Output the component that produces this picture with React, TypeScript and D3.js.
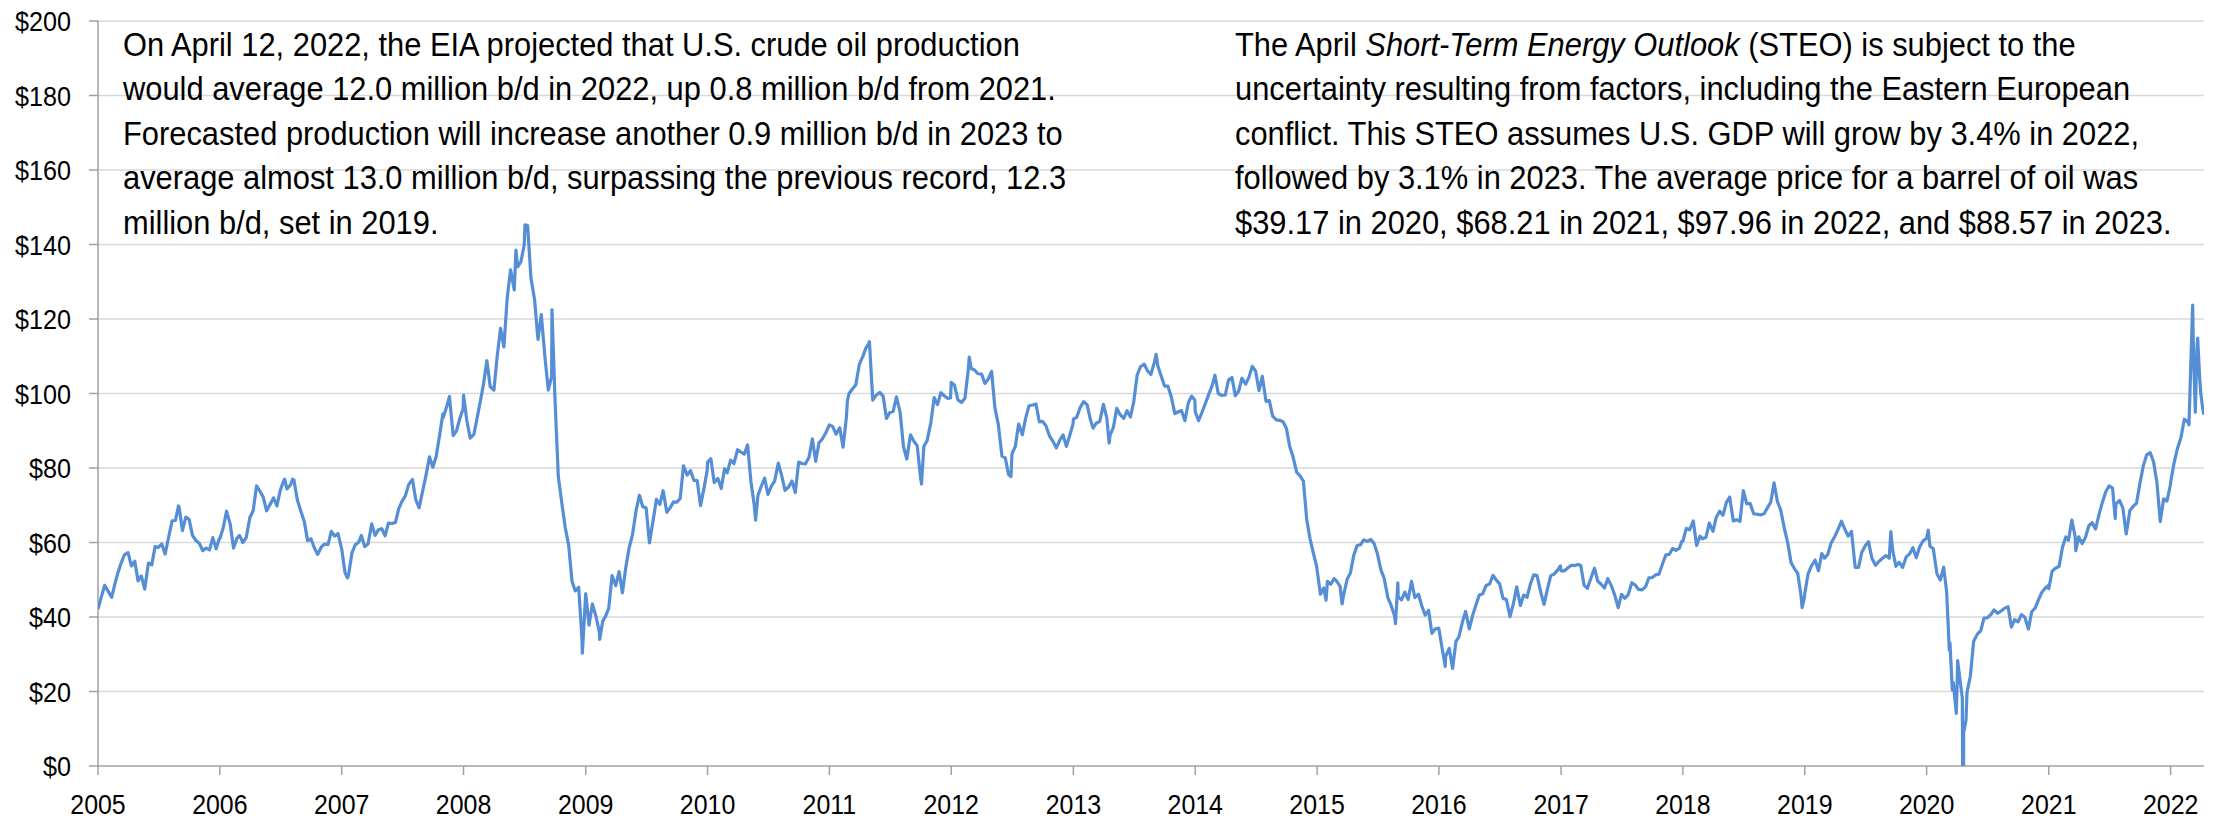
import React from 'react';
import * as d3 from 'd3';

// WTI spot price, $/barrel — sampled on the 1st, 11th and 21st of each month
const prices2005 = [42.1, 45.4, 48.5, 46.8, 45.3, 49.0, 51.7, 54.4, 56.7, 57.3, 53.7, 55.0, 49.7, 51.0, 47.5, 54.5, 54.0, 58.9, 58.7, 59.6, 56.9, 61.6, 65.8, 65.9, 69.5, 63.2, 66.8, 66.2, 61.9, 60.6, 59.7, 57.8, 58.5, 58.0, 61.3, 58.3];
const prices2006 = [61.0, 63.9, 68.4, 65.0, 58.5, 61.1, 61.9, 60.0, 61.3, 66.7, 68.6, 75.2, 73.8, 72.2, 68.5, 70.3, 72.0, 69.8, 74.0, 76.5, 74.4, 75.5, 76.8, 71.5, 68.3, 65.6, 60.5, 61.0, 58.6, 56.8, 58.8, 59.6, 59.4, 63.0, 61.7, 62.4];
const prices2007 = [58.3, 51.9, 51.0, 57.3, 59.4, 60.1, 61.9, 58.9, 59.6, 65.0, 61.9, 63.4, 63.7, 61.8, 65.2, 65.1, 65.4, 69.1, 71.1, 72.6, 75.6, 76.9, 71.5, 69.3, 74.0, 78.2, 83.0, 80.2, 83.1, 88.6, 93.5, 96.3, 98.0, 88.7, 90.0, 93.3];
const prices2008 = [99.6, 92.7, 88.0, 89.0, 93.6, 98.2, 102.6, 108.8, 101.8, 100.9, 110.1, 117.5, 112.5, 125.8, 133.2, 127.8, 134.0, 135.4, 140.0, 145.1, 131.0, 125.1, 114.5, 121.2, 109.7, 100.9, 104.6, 98.5, 77.7, 70.9, 63.9, 59.3, 49.6, 47.0, 48.0, 33.9];
const prices2009 = [46.3, 37.8, 43.5, 40.1, 35.9, 38.9, 40.1, 42.3, 51.1, 48.4, 52.2, 46.5, 53.2, 58.5, 62.0, 68.6, 72.7, 69.6, 69.3, 59.9, 65.4, 71.6, 70.2, 73.9, 68.1, 69.3, 70.9, 70.8, 71.8, 80.6, 78.1, 79.3, 76.7, 76.6, 69.9, 74.4];
const prices2010 = [81.5, 82.5, 76.1, 77.2, 74.5, 79.8, 78.7, 82.1, 81.2, 84.9, 84.3, 83.7, 86.2, 76.4, 70.0, 72.6, 75.1, 77.3, 72.9, 75.1, 76.5, 81.3, 78.0, 74.0, 74.9, 76.5, 73.4, 81.6, 81.2, 81.1, 82.9, 87.8, 81.8, 86.8, 87.8, 89.4];
const prices2011 = [91.6, 91.1, 89.1, 90.8, 85.6, 93.6, 100.0, 101.2, 102.3, 107.9, 109.9, 112.3, 113.9, 98.2, 99.5, 100.3, 99.3, 93.3, 94.9, 95.2, 99.1, 94.9, 85.7, 82.4, 88.9, 87.2, 86.0, 77.6, 85.8, 87.4, 92.2, 98.9, 97.0, 100.2, 99.4, 98.7];
const prices2012 = [103.0, 102.2, 98.3, 97.6, 98.7, 106.3, 106.7, 106.3, 105.3, 105.2, 102.7, 103.9, 105.9, 96.1, 91.7, 83.2, 82.7, 78.2, 83.8, 85.8, 91.8, 88.9, 93.4, 96.7, 96.9, 97.2, 92.4, 92.5, 91.3, 88.7, 87.1, 85.4, 87.4, 88.9, 85.8, 88.7];
const prices2013 = [93.1, 93.6, 96.2, 97.8, 97.0, 93.0, 90.7, 92.1, 92.5, 97.1, 93.5, 88.8, 91.0, 96.0, 94.3, 93.3, 95.4, 93.7, 97.9, 104.9, 107.2, 107.9, 106.1, 105.1, 108.5, 107.4, 104.7, 102.0, 102.0, 99.2, 94.6, 95.1, 95.4, 92.7, 97.4, 99.3];
const prices2014 = [95.1, 92.7, 94.9, 97.5, 99.9, 102.2, 104.9, 100.0, 99.5, 99.6, 103.7, 104.3, 99.4, 100.6, 104.1, 102.5, 104.4, 107.3, 106.0, 100.8, 104.6, 97.9, 98.1, 93.9, 92.9, 92.8, 92.4, 90.7, 85.8, 83.0, 78.8, 77.9, 76.5, 66.2, 61.0, 57.1];
const prices2015 = [52.7, 46.1, 47.8, 49.6, 48.8, 50.3, 49.6, 48.2, 45.7, 50.1, 51.9, 56.6, 59.2, 59.4, 60.7, 60.3, 60.8, 59.7, 56.9, 52.7, 50.4, 45.2, 43.1, 40.3, 45.4, 44.6, 46.7, 44.7, 49.6, 45.2, 46.1, 42.9, 40.5, 41.8, 35.6, 36.8];
const prices2016 = [36.8, 31.4, 29.4, 31.6, 26.2, 33.4, 34.7, 38.5, 41.5, 36.8, 40.4, 43.2, 45.9, 46.2, 48.4, 48.9, 51.2, 49.9, 48.9, 45.0, 44.7, 40.1, 43.5, 48.1, 43.1, 45.9, 45.3, 48.8, 51.3, 51.1, 46.7, 43.4, 47.5, 51.1, 51.5, 52.5];
const prices2017 = [52.4, 52.4, 53.2, 53.9, 53.8, 54.1, 53.8, 48.5, 47.7, 50.6, 53.1, 49.6, 48.8, 47.8, 50.3, 48.3, 45.8, 42.5, 46.1, 45.0, 46.0, 49.2, 48.6, 47.4, 47.3, 48.1, 50.5, 50.6, 51.3, 51.5, 54.3, 56.7, 56.8, 58.4, 57.9, 58.4];
const prices2018 = [60.4, 63.8, 63.4, 65.8, 59.2, 61.7, 61.0, 61.4, 65.2, 63.0, 66.8, 68.4, 67.3, 70.7, 72.2, 65.8, 66.1, 65.7, 73.9, 70.4, 70.5, 67.7, 67.6, 67.4, 67.7, 69.3, 70.8, 76.0, 71.0, 68.7, 63.7, 59.9, 54.6, 53.0, 51.7, 45.6];
const prices2019 = [46.3, 51.6, 53.7, 55.3, 52.4, 57.0, 55.8, 56.8, 59.9, 61.6, 63.6, 65.7, 63.6, 61.7, 63.0, 53.3, 53.3, 57.4, 59.1, 60.2, 55.8, 53.9, 54.9, 55.7, 56.5, 55.8, 58.1, 53.6, 54.7, 53.3, 56.2, 56.9, 58.6, 55.9, 58.8, 60.4];
const prices2020 = [61.2, 59.0, 58.3, 51.6, 49.9, 53.4, 46.8, 33.0, 22.4, 20.3, 22.4, 8.9, 19.8, 24.1, 33.5, 35.4, 36.3, 39.7, 39.8, 40.6, 41.9, 41.0, 41.6, 42.3, 42.8, 37.3, 39.3, 38.7, 40.6, 40.0, 36.8, 41.4, 42.4, 44.6, 46.6, 47.7];
const prices2021 = [47.6, 52.3, 53.1, 53.6, 58.7, 61.5, 60.6, 66.0, 61.6, 61.5, 59.7, 61.4, 64.5, 65.3, 63.6, 67.7, 70.9, 73.7, 75.2, 74.6, 70.3, 71.3, 69.2, 62.3, 68.6, 69.7, 70.6, 75.9, 80.5, 83.5, 84.1, 81.6, 76.1, 65.6, 71.7, 71.1];
const prices2022 = [76.1, 81.2, 85.1, 88.2, 93.1, 92.4, 103.4, 109.3, 112.1, 100.3, 94.3];

const yearly: [number, number[]][] = [
  [2005, prices2005], [2006, prices2006], [2007, prices2007], [2008, prices2008],
  [2009, prices2009], [2010, prices2010], [2011, prices2011], [2012, prices2012],
  [2013, prices2013], [2014, prices2014], [2015, prices2015], [2016, prices2016],
  [2017, prices2017], [2018, prices2018], [2019, prices2019], [2020, prices2020],
  [2021, prices2021], [2022, prices2022],
];
const sampleDays = [1, 11, 21];

// daily highs / lows that the 10-day sampling would miss
const spikes: [string, number][] = [
  ['2005-08-30', 69.8], ['2005-12-30', 61.0], ['2006-07-14', 77.0], ['2006-08-07', 77.0],
  ['2007-01-18', 50.5], ['2007-10-31', 94.5], ['2007-11-20', 99.2], ['2007-12-31', 96.0],
  ['2008-06-06', 138.5], ['2008-07-03', 145.3], ['2008-09-22', 122.5], ['2008-12-22', 30.3],
  ['2008-12-31', 44.6], ['2009-02-12', 34.0], ['2009-12-31', 79.4], ['2010-05-25', 66.0],
  ['2010-12-31', 91.4], ['2011-02-24', 98.1], ['2011-04-29', 113.4], ['2011-10-04', 75.7],
  ['2011-12-30', 98.8], ['2012-02-24', 109.8], ['2012-06-28', 77.7], ['2012-12-31', 91.8],
  ['2013-04-18', 86.7], ['2013-09-06', 110.5], ['2013-12-31', 98.2], ['2014-12-31', 53.5],
  ['2015-01-28', 44.5], ['2015-03-17', 43.5], ['2015-08-24', 38.2], ['2015-08-31', 49.2],
  ['2015-12-31', 37.0], ['2016-01-20', 26.7], ['2016-12-30', 53.7], ['2017-12-29', 60.4],
  ['2018-12-24', 42.5], ['2018-12-31', 45.2], ['2019-09-16', 62.9], ['2019-12-31', 61.1],
  ['2020-01-06', 63.3], ['2020-03-09', 31.1], ['2020-03-18', 20.4], ['2020-03-30', 14.1],
  ['2020-04-03', 28.3], ['2020-04-17', 18.3], ['2020-04-20', -37.0], ['2020-04-28', 12.3],
  ['2020-12-31', 48.5], ['2021-03-23', 57.8], ['2021-07-19', 66.4], ['2021-12-31', 75.3],
  ['2022-02-25', 91.6], ['2022-03-08', 123.7], ['2022-03-16', 95.0], ['2022-03-23', 114.9],
  ['2022-03-29', 104.2], ['2022-04-07', 96.0],
];

const yearTicks = [2005, 2006, 2007, 2008, 2009, 2010, 2011, 2012, 2013, 2014, 2015, 2016, 2017, 2018, 2019, 2020, 2021, 2022];
const priceTicks = [0, 20, 40, 60, 80, 100, 120, 140, 160, 180, 200];

const leftNote = [
  'On April 12, 2022, the EIA projected that U.S. crude oil production',
  'would average 12.0 million b/d in 2022, up 0.8 million b/d from 2021.',
  'Forecasted production will increase another 0.9 million b/d in 2023 to',
  'average almost 13.0 million b/d, surpassing the previous record, 12.3',
  'million b/d, set in 2019.',
];
// [text, italic]
const rightNote: [string, boolean][][] = [
  [['The April ', false], ['Short-Term Energy Outlook', true], [' (STEO) is subject to the', false]],
  [['uncertainty resulting from factors, including the Eastern European', false]],
  [['conflict. This STEO assumes U.S. GDP will grow by 3.4% in 2022,', false]],
  [['followed by 3.1% in 2023. The average price for a barrel of oil was', false]],
  [['$39.17 in 2020, $68.21 in 2021, $97.96 in 2022, and $88.57 in 2023.', false]],
];

const W = 2224;
const H = 820;
const left = 98;
const right = 2204;
const top = 21;
const bottom = 766;
const font = '"Liberation Sans", Arial, sans-serif';
const tickSx = 0.9; // source text is a bit narrower than Arial
const noteSx = 0.935;

const parse = d3.timeParse('%Y-%m-%d');

const points: { date: Date; value: number }[] = [];
yearly.forEach(([year, vals]) => {
  vals.forEach((v, i) => {
    const month = Math.floor(i / 3);
    points.push({ date: new Date(year, month, sampleDays[i % 3]), value: v });
  });
});
spikes.forEach(([d, v]) => points.push({ date: parse(d)!, value: v }));
points.sort((a, b) => +a.date - +b.date);

export default function App() {
  const x = d3.scaleTime().domain([new Date(2005, 0, 1), new Date(2022, 3, 11)]).range([left, right]);
  const y = d3.scaleLinear().domain([0, 200]).range([bottom, top]);
  const line = d3
    .line<{ date: Date; value: number }>()
    .x((d) => x(d.date))
    .y((d) => y(d.value));

  const lineH = 44.5;

  return (
    <svg width={W} height={H} style={{ position: 'absolute', left: 0, top: 0, background: '#fff' }} fontFamily={font}>
      <defs>
        <clipPath id="plot">
          <rect x={left} y={top - 5} width={right - left} height={bottom - top + 5} />
        </clipPath>
      </defs>

      {/* gridlines */}
      {priceTicks.filter((t) => t > 0).map((t) => (
        <line key={t} x1={left} x2={right} y1={y(t)} y2={y(t)} stroke="#d9d9d9" strokeWidth={1.5} />
      ))}

      {/* y axis */}
      <line x1={left} x2={left} y1={top} y2={bottom} stroke="#a0a0a0" strokeWidth={1.5} />
      {priceTicks.map((t) => (
        <g key={t}>
          <line x1={left - 9} x2={left} y1={y(t)} y2={y(t)} stroke="#a0a0a0" strokeWidth={1.5} />
          <text transform={`translate(71,${y(t) + 10}) scale(${tickSx},1)`} textAnchor="end" fontSize={28} fill="#000">
            {`$${t}`}
          </text>
        </g>
      ))}

      {/* x axis */}
      <line x1={left} x2={right} y1={bottom} y2={bottom} stroke="#a0a0a0" strokeWidth={1.5} />
      {yearTicks.map((yr) => {
        const px = x(new Date(yr, 0, 1));
        return (
          <g key={yr}>
            <line x1={px} x2={px} y1={bottom} y2={bottom + 9} stroke="#a0a0a0" strokeWidth={1.5} />
            <text transform={`translate(${px},814) scale(0.89,1)`} textAnchor="middle" fontSize={28} fill="#000">
              {yr}
            </text>
          </g>
        );
      })}

      {/* price line */}
      <path d={line(points) ?? ''} fill="none" stroke="#558ed5" strokeWidth={3.2} strokeLinejoin="round" clipPath="url(#plot)" />

      {/* notes */}
      {leftNote.map((s, i) => (
        <text key={i} transform={`translate(123,${55.5 + i * lineH}) scale(${noteSx},1)`} fontSize={33} fill="#000">
          {s}
        </text>
      ))}
      {rightNote.map((segs, i) => (
        <text key={i} transform={`translate(1235,${55.5 + i * lineH}) scale(${noteSx},1)`} fontSize={33} fill="#000">
          {segs.map(([s, it], j) => (
            <tspan key={j} fontStyle={it ? 'italic' : 'normal'}>
              {s}
            </tspan>
          ))}
        </text>
      ))}
    </svg>
  );
}
